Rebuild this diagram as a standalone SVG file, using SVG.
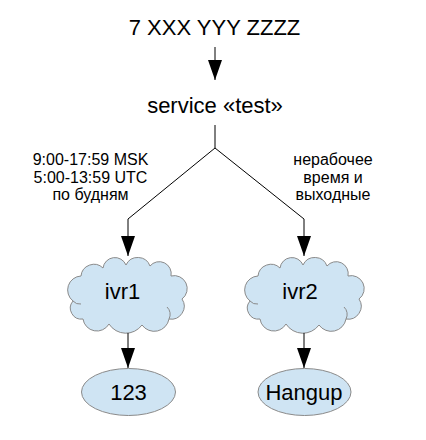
<svg xmlns="http://www.w3.org/2000/svg" width="426" height="440" viewBox="0 0 426 440">
  <style>
    .t { font-family: "Liberation Sans", Arial, sans-serif; fill: #000; text-anchor: middle; }
    .big { font-size: 22px; }
    .lbl { font-size: 16px; }
    .shape { fill: #cfe4f3; stroke: #8a8a8a; stroke-width: 1; }
    .inner { fill: none; stroke: #8a8a8a; stroke-width: 1; }
    .conn { fill: none; stroke: #000; stroke-width: 1; }
  </style>
  <defs>
    <marker id="arrow" markerUnits="userSpaceOnUse" markerWidth="20" markerHeight="14" refX="20" refY="7" orient="auto">
      <path d="M0,0 L20,7 L0,14 Z" fill="#000"/>
    </marker>
    <path id="cloud" d="M4,42 A14,14 0 0 1 12,17 A13,13 0 0 1 34,9 A12,12 0 0 1 57,6 A13,13 0 0 1 81,7 A12,12 0 0 1 102,17 A13,13 0 0 1 113,40 A13,13 0 0 1 100,60 A15,15 0 0 1 73,66 A20,20 0 0 1 40,65 A14,14 0 0 1 14,60 A11,11 0 0 1 4,42 Z"/>
  </defs>

  <g id="phone">
    <text class="t big" x="214.5" y="35">7 XXX YYY ZZZZ</text>
  </g>

  <g id="service">
    <text class="t big" x="215" y="113">service «test»</text>
  </g>

  <g id="label-work">
    <text class="t lbl" x="90.5" y="165">9:00-17:59 MSK</text>
    <text class="t lbl" x="90.5" y="182.5">5:00-13:59 UTC</text>
    <text class="t lbl" x="90.5" y="200">по будням</text>
  </g>

  <g id="label-off">
    <text class="t lbl" x="333" y="165">нерабочее</text>
    <text class="t lbl" x="333" y="182.5">время и</text>
    <text class="t lbl" x="333" y="200">выходные</text>
  </g>

  <g id="ivr1" transform="translate(69,259)">
    <use href="#cloud" class="shape"/>
    <path class="inner" d="M4,42 A9,9 0 0 0 12,45"/>
    <path class="inner" d="M100,60 A10,10 0 0 0 98,48"/>
    <text class="t big" x="53.5" y="40">ivr1</text>
  </g>

  <g id="ivr2" transform="translate(246,259)">
    <use href="#cloud" class="shape"/>
    <path class="inner" d="M4,42 A9,9 0 0 0 12,45"/>
    <path class="inner" d="M100,60 A10,10 0 0 0 98,48"/>
    <text class="t big" x="54" y="40">ivr2</text>
  </g>

  <g id="n123">
    <ellipse class="shape" cx="128.5" cy="392" rx="47" ry="23.5"/>
    <text class="t big" x="128.5" y="399.5">123</text>
  </g>

  <g id="hangup">
    <ellipse class="shape" cx="304.5" cy="392" rx="46.5" ry="23.5"/>
    <text class="t big" x="304" y="399.5">Hangup</text>
  </g>

  <g id="connectors">
    <path class="conn" d="M215,47 V80" marker-end="url(#arrow)"/>
    <path class="conn" d="M215,125 V148 L128,219 V256" marker-end="url(#arrow)"/>
    <path class="conn" d="M215,148 L304,219 V256" marker-end="url(#arrow)"/>
    <path class="conn" d="M128,333 V368" marker-end="url(#arrow)"/>
    <path class="conn" d="M304,333 V368" marker-end="url(#arrow)"/>
  </g>
</svg>
